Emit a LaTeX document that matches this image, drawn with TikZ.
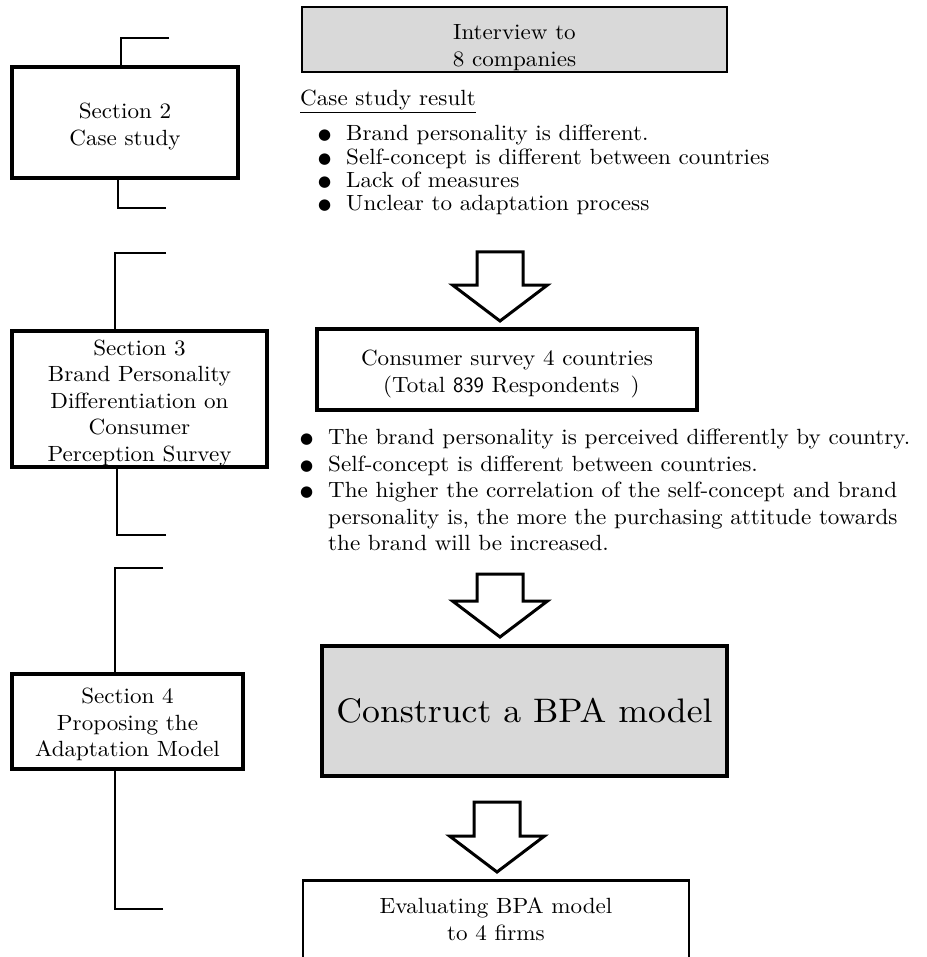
\documentclass[tikz,border=0pt]{standalone}
\usepackage{fontspec}
\setmainfont{lmroman10-regular.otf}[FakeStretch=1.05]
\newfontfamily\bulletfont{DejaVu Sans}
\usepackage{tikz}
\usetikzlibrary{positioning}
\definecolor{boxgray}{HTML}{D9D9D9}
\tikzstyle{secbox} = [draw, line width=3.5, align=center, inner sep=0, fill=white]
\tikzstyle{graybox} = [draw, align=center, inner sep=0, fill=boxgray]
\tikzstyle{plainbox} = [draw, align=center, inner sep=0, fill=white]
\tikzstyle{bracket} = [line width=2]
\tikzstyle{bullets} = [align=left, inner sep=0]
\tikzset{pics/blockarr/.style={code={
    \draw[line width=3, fill=white, line join=miter]
        (-23,-#1) -- (23,-#1) -- (23,-36) -- (47.5,-36) -- (0,0)
        -- (-47.5,-36) -- (-23,-36) -- cycle;
}}}
\newcommand{\bulitem}{\makebox[28pt][l]{\raisebox{1pt}{\bulletfont\fontsize{15}{15}\selectfont ●}}}
% strut on the first line pushes a box text down
\newcommand{\pushdown}[1]{\rule{0pt}{#1pt}}

\begin{document}
\begin{tikzpicture}[x=1pt, y=-1pt, font=\fontsize{22}{26.5}\selectfont]
    \useasboundingbox (0,0) rectangle (926,957);
    \clip (0,0) rectangle (926,957);

    % left column
    \node[secbox, minimum width=226, minimum height=111] (sec2) at (125,122.5) {\pushdown{24}Section 2\\Case study};
    \node[secbox, minimum width=255, minimum height=136] (sec3) at (139.5,399) {\pushdown{23}Section 3\\Brand Personality\\Differentiation on\\Consumer\\Perception Survey};
    \node[secbox, minimum width=231, minimum height=95] (sec4) at (127.5,721.5) {\pushdown{22}Section 4\\Proposing the\\Adaptation Model};

    \coordinate (s2a) at (169,38);
    \coordinate (s2b) at (166,208);
    \coordinate (s3a) at (166,253);
    \coordinate (s3b) at (166,535);
    \coordinate (s4a) at (163,568);
    \coordinate (s4b) at (163,909);
    \draw[bracket] (s2a) -| ([xshift=-4]sec2.north);
    \draw[bracket] (s2b) -| ([xshift=-7]sec2.south);
    \draw[bracket] (s3a) -| ([xshift=-24.5]sec3.north);
    \draw[bracket] (s3b) -| ([xshift=-22.5]sec3.south);
    \draw[bracket] (s4a) -| ([xshift=-12.5]sec4.north);
    \draw[bracket] (s4b) -| ([xshift=-12.5]sec4.south);

    % right column
    \node[graybox, line width=2.5, minimum width=425, minimum height=65] (interview) at (514.5,39.5) {\pushdown{31}Interview to\\8 companies};
    \node[anchor=base west, inner sep=0] (caseres) at (300,106) {\underline{Case study result}};
    \node[bullets, font=\fontsize{22}{23.3}\selectfont, anchor=north west] (caselist) at (318,125) {%
        \bulitem Brand personality is different.\\
        \bulitem Self-concept is different between countries\\
        \bulitem Lack of measures\\
        \bulitem Unclear to adaptation process};

    \pic at (500,321) {blockarr=69};

    \node[plainbox, line width=3.5, minimum width=380, minimum height=81] (survey) at (507,369.5) {\pushdown{24}Consumer survey 4 countries\\\hspace{.4em}(Total {\sffamily 839} Respondents\ \,)};
    \node[bullets, anchor=north west] (surveylist) at (300,429) {%
        \bulitem The brand personality is perceived differently by country.\\
        \bulitem Self-concept is different between countries.\\
        \bulitem The higher the correlation of the self-concept and brand\\
        \hspace*{28pt}personality is, the more the purchasing attitude towards\\
        \hspace*{28pt}the brand will be increased.};

    \pic at (500,637) {blockarr=63};

    \node[graybox, line width=3.5, minimum width=405, minimum height=130, font=\fontsize{34}{40}\selectfont] (bpa) at (524.5,711) {Construct a BPA model};

    \pic at (497,872) {blockarr=70};

    \node[plainbox, line width=2.5, minimum width=386, minimum height=120, anchor=north] (evalbox) at (496,879) {};
    \node[align=center, inner sep=0] (evaltext) at (496,919) {Evaluating BPA model\\to 4 firms};
\end{tikzpicture}
\end{document}
